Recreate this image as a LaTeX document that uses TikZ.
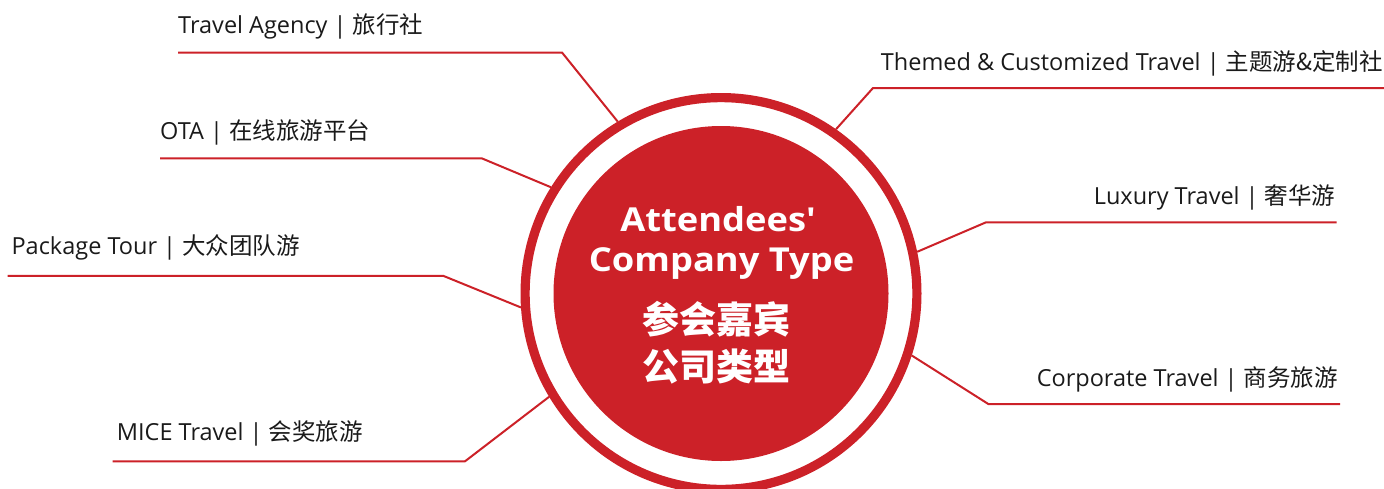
\documentclass[tikz,border=0pt]{standalone}
\usepackage{fontspec}
\newfontfamily\lat{Open Sans}
\newfontfamily\latwide{Open Sans}[FakeStretch=1.1]
\newfontfamily\cjk{Noto Sans CJK SC}
\definecolor{brandred}{RGB}{204,33,40}
\definecolor{labelink}{RGB}{26,26,26}
\begin{document}
\begin{tikzpicture}[x=1pt,y=-1pt,
  lbl/.style={inner sep=0pt, text=labelink, font=\lat\fontsize{23.5}{28}\selectfont},
  conn/.style={draw=brandred, line width=2pt, line join=miter},
  ttl/.style={inner sep=0pt, text=white, anchor=base, font=\latwide\bfseries\fontsize{33}{40}\selectfont},
  ttlcjk/.style={inner sep=0pt, text=white, anchor=base, font=\cjk\bfseries\fontsize{37}{44}\selectfont},
]
\useasboundingbox (0,0) rectangle (1384,488);

% central badge: thin ring around a filled disc
\coordinate (c) at (721,293.5);
\node[circle, draw=brandred, line width=9.2pt, minimum size=391.8pt, inner sep=0pt] (ring) at (c) {};
\node[circle, fill=brandred, minimum size=335pt, inner sep=0pt] (core) at (c) {};

\node[ttl] (t1) at (718,231.7) {Attendees'};
\node[ttl] (t2) at (721.5,271.7) {Company Type};
\node[ttlcjk] (t3) at (716,333) {参会嘉宾};
\node[ttlcjk] (t4) at (716,380) {公司类型};

% left-hand categories
\node[lbl, anchor=base west] (ta) at (178,33.3) {Travel Agency | {\cjk 旅行社}};
\coordinate (ta-s) at (178,52.5);
\coordinate (ta-k) at (562,52.5);
\draw[conn] (ta-s) -- (ta-k) -- (ring.121.5);

\node[lbl, anchor=base west] (ota) at (160,139.5) {OTA | {\cjk 在线旅游平台}};
\coordinate (ota-s) at (160,158.3);
\coordinate (ota-k) at (481.7,158.3);
\draw[conn] (ota-s) -- (ota-k) -- (ring.148.1);

\node[lbl, anchor=base west] (pkg) at (11.4,254.4) {Package Tour | {\cjk 大众团队游}};
\coordinate (pkg-s) at (7.6,275.8);
\coordinate (pkg-k) at (443.2,275.8);
\draw[conn] (pkg-s) -- (pkg-k) -- (ring.184.75);

\node[lbl, anchor=base west] (mice) at (116.7,440.7) {MICE Travel | {\cjk 会奖旅游}};
\coordinate (mice-s) at (112.7,461.3);
\coordinate (mice-k) at (465,461.3);
\draw[conn] (mice-s) -- (mice-k) -- (ring.211.9);

% right-hand categories
\node[lbl, anchor=base east] (thm) at (1383,70) {Themed \& Customized Travel | {\cjk 主题游\&定制社}};
\coordinate (thm-s) at (1384,88);
\coordinate (thm-k) at (873,88);
\draw[conn] (thm-s) -- (thm-k) -- (ring.55.4);

\node[lbl, anchor=base east] (lux) at (1335.5,204.3) {Luxury Travel | {\cjk 奢华游}};
\coordinate (lux-s) at (1336.7,222.3);
\coordinate (lux-k) at (986,222.3);
\draw[conn] (lux-s) -- (lux-k) -- (ring.12.25);

\node[lbl, anchor=base east] (corp) at (1338,386.7) {Corporate Travel | {\cjk 商务旅游}};
\coordinate (corp-s) at (1340,404);
\coordinate (corp-k) at (988.3,404);
\draw[conn] (corp-s) -- (corp-k) -- (ring.-18.8);
\end{tikzpicture}
\end{document}
